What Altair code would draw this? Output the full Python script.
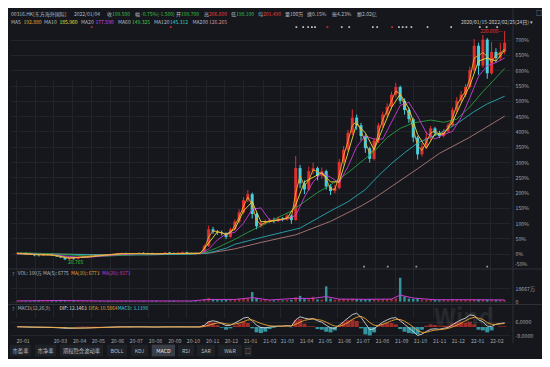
import altair as alt
import pandas as pd

FONT = "Noto Sans CJK SC"
BG = "#15171c"
GRID = "#212429"
SEP = "#2c3038"
AXC = "#a2a6ad"
TXT = "#b8bcc3"
RED = "#e0302e"
CYAN = "#46cfdc"
C_MA5 = "#f0a535"
C_MA10 = "#e6e040"
C_MA20 = "#c83cd8"
C_MA60 = "#2a9c3f"
C_MA120 = "#2aa8b4"
C_MA200 = "#b07878"
HDR_GREEN = "#38c048"
HDR_RED = "#e84040"

W, H = 505, 329

# ---------------- data (weekly, % change since start) ----------------
weeks = pd.date_range("2020-01-03", periods=113, freq="7D")

close = [2, 3, 1, -2, -5, -6, -4, -3, -5, -8, -12, -18, -15, -17, -13, -10, -8, -6, -3, -5,
         -4, -6, -3, 0, 2, -1, -2, 0, 3, 1, 2, 0, -1, 1, 4, 2, 0, 3, 5, 2, 1, 0, 2,
         25, 80, 72, 70, 68, 55, 80, 105, 135, 175,
         195, 130, 90, 100, 105, 110, 108, 115, 112, 125,
         110, 280, 230, 210, 270, 280, 255, 270, 220, 205,
         215, 300, 340, 395, 445, 420, 385, 345, 310, 370,
         420, 455, 480, 520, 545, 500, 470, 440, 380, 325,
         350, 380, 410, 395, 385, 400, 420, 470, 500, 520,
         545, 600, 680, 615, 700, 590, 660, 640, 660, 690]
high = [4, 6, 5, 3, 0, -3, -2, -1, -1, -3, -6, -10, -12, -12, -11, -8, -6, -4, -1, -2,
        -2, -2, 0, 2, 4, 4, 1, 2, 5, 5, 4, 4, 2, 3, 6, 6, 4, 5, 7, 7, 4, 3, 4,
        30, 92, 88, 78, 76, 70, 85, 112, 145, 185,
        208, 200, 135, 106, 112, 116, 118, 122, 120, 132,
        128, 320, 290, 240, 285, 298, 285, 282, 275, 228,
        225, 310, 352, 405, 472, 455, 428, 390, 350, 378,
        428, 465, 492, 530, 558, 550, 508, 478, 445, 385,
        362, 400, 418, 415, 402, 408, 428, 478, 512, 532,
        555, 612, 702, 690, 715, 705, 692, 672, 690, 728]
low = [-2, 0, -1, -4, -8, -9, -8, -6, -7, -10, -14, -21, -20, -20, -18, -14, -11, -9, -8, -7,
       -7, -8, -7, -5, -2, -3, -4, -4, -2, -1, -1, -2, -3, -3, -1, 0, -2, -2, 1, 0, -1, -2, -2,
       0, 22, 65, 62, 60, 48, 52, 76, 100, 130,
       168, 115, 80, 85, 95, 100, 100, 104, 106, 108,
       98, 108, 215, 195, 205, 260, 240, 245, 210, 192,
       198, 210, 292, 335, 388, 405, 370, 330, 298, 305,
       362, 412, 448, 472, 512, 490, 455, 428, 365, 308,
       318, 342, 372, 385, 378, 380, 395, 415, 462, 492,
       512, 540, 592, 585, 608, 572, 585, 625, 632, 652]
volume = [900, 1100, 800, 700, 1200, 1500, 1300, 1000, 1600, 2000, 2400, 2200, 1500, 1300, 1000,
          900, 800, 1000, 900, 700, 800, 900, 700, 1000, 1200, 900, 800, 1000, 900, 800, 700,
          900, 1100, 800, 1000, 900, 1200, 1000, 800, 700, 900, 800, 1200,
          3500, 5200, 3000, 2200, 2000, 2500, 2800, 3200, 3800, 4200,
          4800, 13300, 5200, 2500, 2000, 1800, 1700, 1900, 1600, 2200,
          2400, 6000, 8000, 3500, 3200, 6700, 3000, 2800, 21300, 4200,
          2600, 3500, 3800, 3200, 4000, 3300, 2900, 3100, 3600, 3000,
          2800, 3400, 3000, 3800, 4500, 33300, 7000, 4200, 3800, 4600,
          3000, 2600, 2400, 2200, 2000, 2300, 2100, 2600, 2800, 2400,
          2500, 2700, 3000, 2600, 2900, 2500, 2200, 2000, 2300, 2100]
macd_hist = [0.2, 0.1, -0.2, -0.4, -0.6, -0.5, -0.3, -0.2, -0.5, -0.8, -1.2, -1.5, -0.6, -0.4,
             0.3, 0.6, 0.5, 0.4, 0.5, 0.2, 0.1, -0.1, 0.2, 0.4, 0.3, -0.1, -0.2, 0.1, 0.3, 0.1,
             0.1, -0.1, -0.2, 0.1, 0.4, 0.2, -0.1, 0.2, 0.4, 0.1, -0.1, -0.2,
             0.3, 2.3, 6, 5, 2, -0.8, -3, -1.5, 1.8, 3.8,
             6, 4.5, -1.5, -6, -6.8, -5.3, -2.3, -0.8, 0, 0,
             0.5, -0.3, 7.5, 9, 3.8, 0.8, 0.8, -2.3, -3, -5.3,
             -6, -3.8, 1.5, 5.3, 7.5, 8.3, 6.8, -1.5, -8.3, -9.5,
             -6, 0.8, 3.8, 4.5, 4.5, 3, -2.3, -5.3, -6.8, -7.5,
             -8.3, -3, 1.5, 3, 2.3, 0.8, 1.5, 1.5, 3.8, 5.3,
             5.3, 4.5, 6, 3, -3, -3.8, -6, -3.8, 0, 0.8, 0.8]

flat_idx = [0, 4, 8, 12, 16, 20, 24, 28, 32, 36, 40]
ma5_idx = flat_idx + list(range(42, 113))
ma5_val = [2, -3, -4, -15, -9, -4, 1, 1, 0, 1, 2,
           2, 15, 55, 75, 72, 69, 62, 68, 92, 120,
           155, 185, 160, 110, 95, 102, 108, 109, 112, 113,
           118, 117, 200, 255, 222, 240, 275, 268, 262, 245,
           212, 210, 258, 320, 368, 420, 432, 402, 365, 328,
           340, 395, 438, 468, 500, 532, 522, 485, 455, 410,
           352, 338, 365, 395, 402, 390, 392, 410, 445, 485,
           510, 532, 572, 640, 648, 658, 645, 625, 650, 655, 670]
ma10_idx = flat_idx + list(range(42, 113, 2))
ma10_val = [1, -2, -4, -13, -11, -5, 0, 1, 0, 1, 1,
            1, 35, 72, 64, 80, 140, 170, 105, 105, 110,
            116, 160, 235, 250, 265, 235, 235, 330, 425, 395,
            340, 410, 478, 522, 475, 390, 345, 392, 392, 430,
            492, 550, 630, 640, 630, 665]
ma20_idx = flat_idx + list(range(42, 113, 2))
ma20_val = [0, -1, -3, -9, -12, -7, -2, 0, 0, 1, 1,
            1, 15, 45, 65, 70, 100, 145, 150, 110, 108,
            115, 125, 185, 235, 265, 250, 232, 285, 350, 385,
            375, 375, 430, 485, 495, 450, 395, 375, 390, 400,
            445, 510, 580, 615, 625, 640]
ma60_idx = [0, 4, 8, 12, 16, 20, 24, 28, 32, 36, 40, 43, 46, 50, 53, 56, 59, 63, 66, 69,
            72, 76, 79, 82, 85, 88, 91, 95, 98, 101, 104, 107, 110, 112]
ma60_val = [3, 2, 0, -4, -7, -8, -5, -2, 0, 1, 1, 3, 20, 47, 70, 91, 112, 140, 170, 200,
            225, 265, 300, 334, 380, 410, 428, 437, 430, 440, 480, 530, 575, 606]
ma120_idx = [0, 8, 16, 24, 32, 40, 44, 48, 50, 56, 65, 72, 76, 80, 83, 86, 89, 92, 97, 101,
             105, 108, 112]
ma120_val = [0, -1, -3, -4, -3, -1, 3, 18, 31, 53, 84, 140, 170, 210, 255, 295, 330, 362, 393, 425,
             465, 490, 515]
ma200_idx = [0, 10, 20, 30, 40, 44, 50, 56, 64, 72, 79, 82, 92, 97, 104, 112]
ma200_val = [0, -1, -3, -3, -1, 2, 16, 37, 62, 106, 156, 181, 278, 328, 381, 450]

vma_idx = [0, 10, 20, 30, 40, 44, 50, 54, 58, 64, 68, 71, 74, 80, 86, 88, 91, 96, 104, 112]
vma_val = [1000, 1500, 900, 900, 900, 3000, 3000, 5500, 2200, 4500, 4500, 7000, 3500, 3200,
           3500, 9000, 5000, 2600, 2600, 2300]

dif_idx = flat_idx + list(range(42, 113))
dif_val = [0.3, -0.2, -0.5, -1.5, -1, -0.3, 0.2, 0.2, 0, 0.2, 0.1,
           0.2, 2, 6, 7, 6, 4, 1.5, 2, 4.5, 7,
           10, 11, 7, 2, -0.5, -1, 0, 0.5, 1, 1,
           1.5, 1, 8, 11.5, 10, 9, 9.5, 7, 5.5, 2,
           -1, -1.5, 2, 6, 10, 14, 15.5, 11, 4, -3,
           -2, 2, 5.5, 8, 10, 10.5, 7, 3, -1, -5,
           -9.5, -8, -5, -2.5, -2, -2.5, -1.5, -0.5, 2.5, 5.5,
           8, 10, 13.5, 13, 8, 6, 1, 0.5, 3, 4, 4.5]
dea_val = [0.2, 0, -0.3, -1, -1.1, -0.5, 0, 0.1, 0.1, 0.1, 0.1,
           0, 0.5, 2, 3.5, 4.5, 4.5, 3.5, 3, 3.3, 4.5,
           6, 8, 8, 6, 4, 2.5, 1.5, 1, 1, 1,
           1.2, 1.2, 3, 5.5, 7.5, 8.5, 9, 8.5, 7.5, 5.5,
           3, 1, 1, 2.5, 5, 8.5, 11, 12, 9.5, 5,
           2, 1.5, 3, 5, 7, 8.5, 8.5, 6.5, 3.5, 0,
           -4, -6, -6, -4.5, -3.5, -3, -2.5, -1.5, 0, 2,
           4.5, 7, 9.5, 11, 10, 8.5, 5, 3, 3, 3.5, 4]

event_dates = ["2020-05-02", "2020-09-06", "2021-03-27", "2021-04-07", "2021-04-15",
               "2021-04-21", "2021-04-26", "2021-05-16", "2021-06-08", "2021-06-20",
               "2021-07-28", "2021-08-04", "2021-08-28", "2021-09-08", "2021-09-14",
               "2021-09-20", "2021-09-28", "2021-10-24", "2021-12-01", "2022-01-16",
               "2022-01-27", "2022-02-13"]
event_kind = ["r", "r", "w", "w", "w", "w", "w", "r", "w", "w", "w", "w", "r", "w", "w",
              "w", "w", "w", "w", "w", "w", "w"]
div_dates = ["2021-07-14", "2021-08-21", "2021-10-06", "2022-01-28"]

# ---------------- frames ----------------
opens = [0] + close[:-1]
candles = pd.DataFrame({"date": weeks, "o": opens, "h": high, "l": low, "c": close,
                        "v": volume, "hist": macd_hist})


def series(idx, vals):
    assert len(idx) == len(vals), (len(idx), len(vals))
    return pd.DataFrame({"date": [weeks[i] for i in idx], "v": vals})


ma_frames = [(series(ma200_idx, ma200_val), C_MA200), (series(ma120_idx, ma120_val), C_MA120),
             (series(ma60_idx, ma60_val), C_MA60), (series(ma20_idx, ma20_val), C_MA20),
             (series(ma10_idx, ma10_val), C_MA10), (series(ma5_idx, ma5_val), C_MA5)]
dif_df = series(dif_idx, dif_val)
dea_df = series(dif_idx, dea_val)
vma_df = series(vma_idx, vma_val)
events = pd.DataFrame({"date": pd.to_datetime(event_dates), "kind": event_kind})
divs = pd.DataFrame({"date": pd.to_datetime(div_dates)})
peak = pd.DataFrame({"date": [weeks[112]], "v": [728], "t": ["220.000—"]})
trough = pd.DataFrame({"date": [weeks[11]], "v": [-21], "t": ["20.765"]})

# ---------------- scales / axes ----------------
months = [alt.DateTime(year=y, month=m, date=1) for y in (2020, 2021, 2022) for m in range(1, 13)
          if (y, m) <= (2022, 2)]
xaxis = alt.Axis(values=months, grid=True, gridColor=GRID, domain=False, ticks=False,
                 labelExpr="timeFormat(datum.value, '%y-%m') == '20-02' ? '' : timeFormat(datum.value, '%y-%m')",
                 labelAlign="left", labelPadding=1, labelFontSize=5.2, labelColor=AXC,
                 labelFont=FONT, labelFlush=False, labelOverlap=False)
xscale = alt.Scale(domain=[alt.DateTime(year=2020, month=1, date=1),
                           alt.DateTime(year=2022, month=2, date=27)], range=[2.9, 502.9])
X = alt.X("date:T", scale=xscale, axis=xaxis, title=None)


def yaxis(values, expr):
    return alt.Axis(orient="right", values=values, labelExpr=expr, grid=True, gridColor=GRID,
                    domain=False, ticks=False, labelPadding=2, labelFontSize=5.2,
                    labelColor=AXC, labelFont=FONT, labelFlush=False, labelOverlap=False)


ysP = alt.Scale(domain=[-38, 740], range=[257.4, 19.4], nice=False, zero=False)
yaP = yaxis(list(range(0, 701, 50)), "datum.value + '%'")
ysV = alt.Scale(domain=[0, 36000], range=[293.6, 267.8], nice=False, zero=False)
yaV = yaxis([0, 18667], "datum.value == 0 ? '0' : datum.value + '万'")
ysM = alt.Scale(domain=[-11, 17], range=[328.8, 303.9], nice=False, zero=False)
yaM = yaxis([-9, 6], "(datum.value < 0 ? '-' : '') + format(abs(datum.value), '.4f')")


def yP(f):
    return alt.Y(f, scale=ysP, axis=yaP, title=None)


updown = alt.condition("datum.c >= datum.o", alt.value(RED), alt.value(CYAN))

# ---------------- price panel ----------------
base = alt.Chart(candles)
wick = base.mark_rule(strokeWidth=1).encode(x=X, y=yP("l:Q"), y2="h:Q", color=updown)
body = base.mark_bar(size=3).encode(x=X, y=yP("o:Q"), y2="c:Q", color=updown)
ma_layers = [alt.Chart(df).mark_line(color=col, strokeWidth=0.9).encode(x=X, y=yP("v:Q"))
             for df, col in ma_frames]
peak_lbl = alt.Chart(peak).mark_text(align="right", dx=-2, fontSize=5, font=FONT, color=RED,
                                     baseline="middle").encode(x=X, y=yP("v:Q"), text="t:N")
trough_lbl = alt.Chart(trough).mark_text(align="left", dx=3, dy=2, fontSize=5, font=FONT,
                                         color=HDR_GREEN, baseline="middle").encode(
    x=X, y=yP("v:Q"), text="t:N")
price = alt.layer(wick, body, *ma_layers, peak_lbl, trough_lbl)

# ---------------- volume panel ----------------
vbars = base.mark_bar(size=2.5, opacity=0.9).encode(
    x=X, y=alt.Y("v:Q", scale=ysV, axis=yaV, title=None), y2=alt.datum(0),
    color=alt.condition("datum.c >= datum.o", alt.value("#a8343a"), alt.value("#3aa0a8")))
vline = alt.Chart(vma_df).mark_line(color=C_MA20, strokeWidth=1).encode(
    x=X, y=alt.Y("v:Q", scale=ysV, axis=yaV, title=None))
vol = alt.layer(vbars, vline)

# ---------------- MACD panel ----------------
hbars = base.mark_bar(size=4, opacity=0.85).encode(
    x=X, y=alt.Y("hist:Q", scale=ysM, axis=yaM, title=None), y2=alt.datum(0),
    color=alt.condition("datum.hist >= 0", alt.value("#b8302c"), alt.value("#3aaab8")))
difl = alt.Chart(dif_df).mark_line(color="#d8d8d8", strokeWidth=0.9).encode(
    x=X, y=alt.Y("v:Q", scale=ysM, axis=yaM, title=None))
deal = alt.Chart(dea_df).mark_line(color=C_MA5, strokeWidth=0.9).encode(
    x=X, y=alt.Y("v:Q", scale=ysM, axis=yaM, title=None))
macd = alt.layer(hbars, difl, deal)

# ---------------- decorations ----------------
ONE = pd.DataFrame({"k": [0]})


def label(text, x, y, color=TXT, size=5, align="left", weight="normal", opacity=1.0):
    return alt.Chart(ONE).mark_text(text=text, align=align, baseline="middle", fontSize=size,
                                    font=FONT, color=color, fontWeight=weight,
                                    opacity=opacity).encode(x=alt.value(x), y=alt.value(y))


def hrule(y, x1, x2, color=SEP):
    return alt.Chart(ONE).mark_rule(color=color, strokeWidth=1).encode(
        x=alt.value(x1), x2=alt.value(x2), y=alt.value(y))


def vrule(x, y1, y2, color=SEP):
    return alt.Chart(ONE).mark_rule(color=color, strokeWidth=1).encode(
        x=alt.value(x), y=alt.value(y1), y2=alt.value(y2))


def box(x1, x2, y1, y2, color):
    return alt.Chart(ONE).mark_rect(color=color).encode(
        x=alt.value(x1), x2=alt.value(x2), y=alt.value(y1), y2=alt.value(y2))


r1, r2 = 5.7, 13.9
header = [
    label("00316.HK[东方海外国际]", 2.9, r1), label("2022/01/04", 66, r1),
    label("收", 99, r1), label("199.500", 104, r1, HDR_GREEN),
    label("幅", 127, r1), label("-0.75%(-1.500)", 133, r1, HDR_GREEN),
    label("开", 168, r1), label("199.700", 173, r1, HDR_GREEN),
    label("高", 196, r1), label("206.600", 201, r1, HDR_RED),
    label("低", 223, r1), label("198.100", 228, r1, HDR_GREEN),
    label("均", 250, r1), label("201.490", 255, r1, HDR_RED),
    label("量", 277, r1), label("100万", 282, r1),
    label("换", 299, r1), label("0.15%", 304, r1),
    label("振", 324, r1), label("4.23%", 329, r1),
    label("额", 349, r1), label("2.02亿", 354, r1),
    label("□", 528, 4.8, TXT, 6),
    label("MA5", 2.9, r2), label("192.880", 15.5, r2, C_MA5),
    label("MA10", 36, r2), label("185.960", 51.5, r2, C_MA10),
    label("MA20", 73, r2), label("177.590", 87.4, r2, "#d84ae8"),
    label("MA60", 110, r2), label("149.325", 124, r2, "#3cc850"),
    label("MA120", 146, r2), label("145.312", 162, r2, "#3cc8d4"),
    label("MA200", 184.5, r2), label("126.265", 201, r2, "#d09090"),
    label("2020/01/15-2022/02/25(24日) ▾", 525, r2, "#c8ccd2", 5, "right"),
    label("-50%", 507, 256, AXC, 5.2),
    label("?", 3.9, 265.9, "#8a8e96", 5), label("VOL: 100万", 9.7, 265.9, TXT, 4.8),
    label("MA(5): 6775", 35, 265.9, TXT, 4.8), label("MA(10): 6773", 63, 265.9, C_MA5, 4.8),
    label("MA(20): 8171", 94, 265.9, C_MA20, 4.8),
    label("?", 3.9, 301.3, "#8a8e96", 5), label("MACD(12,26,9)", 9.7, 301.3, TXT, 4.8),
    label("DIF: 12.1463", 51.5, 301.3, "#e0e0e0", 4.8),
    label("DEA: 10.5864", 80.6, 301.3, C_MA5, 4.8),
    label("MACD: 3.1198", 109.7, 301.3, CYAN, 4.8),
]
buttons_y = 342.5
btn_bg = "#1e2126"
buttons = [
    box(2, 23, 336.6, 348.4, btn_bg), box(27, 48, 336.6, 348.4, btn_bg),
    box(52, 95, 336.6, 348.4, btn_bg), box(99, 119, 336.6, 348.4, btn_bg),
    box(123, 140, 336.6, 348.4, btn_bg), box(143.7, 167, 336.6, 348.4, "#3a3e46"),
    box(170, 186, 336.6, 348.4, btn_bg), box(189, 207, 336.6, 348.4, btn_bg),
    box(210, 234, 336.6, 348.4, btn_bg), box(236, 244, 336.6, 348.4, btn_bg),
    label("市盈率", 12.5, buttons_y, TXT, 5.3, "center"),
    label("市净率", 37.5, buttons_y, TXT, 5.3, "center"),
    label("期权隐含波动率", 73.5, buttons_y, TXT, 5.3, "center"),
    label("BOLL", 109, buttons_y, TXT, 5.3, "center"), label("KDJ", 131.5, buttons_y, TXT, 5.3, "center"),
    label("MACD", 155.4, buttons_y, "#e0e3e8", 5.3, "center"),
    label("RSI", 178, buttons_y, TXT, 5.3, "center"), label("SAR", 198, buttons_y, TXT, 5.3, "center"),
    label("W&R", 222, buttons_y, TXT, 5.3, "center"), label("□", 240, buttons_y, TXT, 5.3, "center"),
]
watermark = label("Wind", 456, 311, "#ffffff", 24, "center", "bold", 0.07)
separators = [hrule(261, 0, 534), hrule(296.5, 0, 534), vrule(505, 0, H + 6)]

ev_marks = alt.Chart(events).mark_square(size=3, opacity=0.9).encode(
    x=X, y=alt.value(19.1),
    color=alt.Color("kind:N", scale=alt.Scale(domain=["w", "r"], range=["#d4d4d4", "#e03030"]),
                    legend=None))
div_marks = alt.Chart(divs).mark_square(size=3, color="#d4d4d4").encode(x=X, y=alt.value(258.6))

chart = alt.layer(
    *separators, watermark, price, vol, macd, ev_marks, div_marks, *header, *buttons
).resolve_scale(y="independent").properties(
    width=W, height=H,
    autosize=alt.AutoSizeParams(type="none"),
    padding={"left": 0, "top": 0, "right": 29, "bottom": 22},
    background=BG,
).configure_view(stroke=None)

chart.save("out.html", embed_options={"renderer": "svg", "actions": False})
